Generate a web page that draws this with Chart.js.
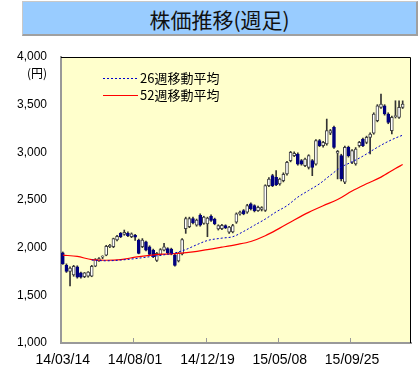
<!DOCTYPE html>
<html>
<head>
<meta charset="utf-8">
<script src="https://cdn.jsdelivr.net/npm/chart.js@4.4.1/dist/chart.umd.min.js"></script>
<style>
  html, body { margin: 0; padding: 0; background: #fff; }
  #wrap { position: relative; width: 420px; height: 375px; }
  #title {
    position: absolute; left: 22px; top: 1px; width: 393px; height: 32px;
    background: #99CCFF;
    border: 1px solid #c8c8c8; border-right: 2px solid #a0a0a0; border-bottom: 2px solid #a0a0a0;
    font-family: "Noto Sans CJK JP", sans-serif; font-size: 21px; line-height: 34px;
    text-align: center; color: #111;
  }
  canvas { position: absolute; left: 0; top: 0; }
</style>
</head>
<body>
<div id="wrap">
  <canvas id="chart" width="420" height="375"></canvas>
  <div id="title">株価推移(週足)</div>
</div>
<script>
// weekly candles, 14/03/14 .. (index = week number)
const opens = [
  1945, 1815, 1750, 1715, 1800, 1735, 1695, 1700, 1700, 1805,
  1862, 1900, 1920, 2010, 2010, 2080, 2150, 2140, 2150, 2115,
  2130, 2080, 2010, 2060, 2010, 1975, 1865, 1930, 1975, 1990,
  1985, 1920, 1860, 1935, 2200, 2220, 2305, 2235, 2340, 2255,
  2250, 2330, 2300, 2197, 2200, 2232, 2163, 2165, 2267, 2354,
  2389, 2372, 2459, 2441, 2389, 2400, 2390, 2651, 2755, 2738,
  2668, 2703, 2773, 2913, 2965, 2982, 2913, 2860, 2843, 2913,
  2877, 3122, 3070, 3087, 3200, 3262, 2990, 2965, 2686, 3052,
  2895, 2878, 3070, 3140, 3104, 3157, 3200, 3332, 3471, 3489,
  3402, 3227, 3375, 3366, 3471
]
const highs = [
  1955, 1830, 1800, 1815, 1810, 1745, 1740, 1750, 1815, 1885,
  1895, 1915, 2025, 2035, 2100, 2130, 2160, 2185, 2165, 2155,
  2140, 2090, 2095, 2070, 2020, 1985, 1950, 1990, 2045, 2000,
  1995, 1930, 1950, 2095, 2320, 2320, 2320, 2300, 2355, 2330,
  2320, 2345, 2310, 2240, 2245, 2240, 2225, 2245, 2365, 2385,
  2400, 2455, 2470, 2450, 2435, 2430, 2660, 2735, 2770, 2808,
  2730, 2785, 2905, 3010, 3005, 2995, 2925, 2940, 2975, 2925,
  3135, 3135, 3115, 3349, 3240, 3275, 3020, 2980, 3065, 3065,
  3030, 3050, 3115, 3150, 3170, 3205, 3415, 3500, 3611, 3500,
  3415, 3380, 3541, 3541, 3540
]
const lows = [
  1825, 1740, 1600, 1700, 1680, 1680, 1685, 1690, 1695, 1800,
  1855, 1885, 1915, 2000, 2000, 2070, 2105, 2130, 2115, 2105,
  2075, 1935, 2000, 1965, 1925, 1895, 1855, 1920, 1965, 1935,
  1925, 1805, 1850, 1925, 2150, 2210, 2250, 2225, 2225, 2245,
  2115, 2275, 2240, 2185, 2190, 2200, 2150, 2155, 2255, 2340,
  2345, 2360, 2395, 2375, 2380, 2385, 2380, 2640, 2640, 2650,
  2655, 2690, 2760, 2900, 2955, 2865, 2865, 2850, 2825, 2755,
  2865, 3060, 3055, 3075, 3185, 3040, 2721, 2700, 2670, 2950,
  2880, 2865, 3055, 3060, 3090, 2983, 3190, 3320, 3460, 3390,
  3300, 3192, 3360, 3355, 3460
]
const closes = [
  1830, 1750, 1785, 1805, 1690, 1690, 1735, 1745, 1805, 1875,
  1885, 1905, 2015, 2025, 2095, 2120, 2115, 2160, 2125, 2145,
  2110, 1940, 2080, 1975, 1930, 1905, 1940, 1980, 2010, 1945,
  1935, 1815, 1940, 2085, 2305, 2305, 2260, 2290, 2235, 2320,
  2310, 2285, 2250, 2232, 2235, 2208, 2215, 2232, 2354, 2372,
  2354, 2441, 2407, 2389, 2424, 2420, 2651, 2720, 2651, 2660,
  2720, 2770, 2895, 3000, 2990, 2877, 2877, 2930, 2965, 2843,
  3122, 3070, 3104, 3227, 3227, 3052, 3010, 2721, 3052, 2965,
  3018, 3035, 3104, 3070, 3157, 3192, 3402, 3489, 3506, 3402,
  3314, 3366, 3382, 3471, 3506
]

// moving averages (week index, price)
const ma26Weeks = [8, 12, 16, 20, 24, 28, 31, 34, 37, 40, 44, 47, 50, 53, 56, 59, 62, 65, 68, 71, 74, 77, 80, 83, 86, 89, 92, 94]
const ma26 = [1870, 1862, 1870, 1885, 1905, 1925, 1945, 1980, 2030, 2075, 2100, 2115, 2170, 2235, 2300, 2375, 2440, 2530, 2600, 2670, 2760, 2845, 2900, 2960, 3030, 3095, 3150, 3180]
const ma52Weeks = [0, 4, 8, 12, 16, 20, 24, 28, 32, 36, 40, 44, 48, 52, 56, 60, 64, 68, 72, 76, 80, 84, 88, 92, 94]
const ma52 = [1922, 1908, 1875, 1868, 1875, 1900, 1920, 1932, 1940, 1955, 1980, 2005, 2032, 2065, 2125, 2205, 2290, 2370, 2440, 2505, 2595, 2670, 2740, 2830, 2872]

const tickWeeks = [0, 20, 40, 60, 80]
const tickLabels = ['14/03/14', '14/08/01', '14/12/19', '15/05/08', '15/09/25']

const weeks = opens.map((_, i) => i)
const isUp = i => closes[i] >= opens[i]

const chartFrame = {
  id: 'chartFrame',
  beforeDraw(chart) {
    const { ctx, chartArea: a } = chart
    ctx.save()
    ctx.fillStyle = '#FFFFCC'
    ctx.fillRect(a.left, a.top, a.right - a.left, a.bottom - a.top)
    ctx.restore()
  },
  afterDraw(chart) {
    const { ctx, chartArea: a } = chart
    const xs = chart.scales.x
    ctx.save()
    // top and right border
    ctx.strokeStyle = '#000'
    ctx.lineWidth = 1
    ctx.beginPath()
    ctx.moveTo(a.left, a.top + 0.5)
    ctx.lineTo(a.right - 0.5, a.top + 0.5)
    ctx.lineTo(a.right - 0.5, a.bottom)
    ctx.stroke()
    // small tick marks inside, between categories
    ctx.strokeStyle = '#999'
    tickWeeks.slice(1).forEach(w => {
      const px = Math.round(xs.getPixelForValue(w - 0.5)) + 0.5
      ctx.beginPath()
      ctx.moveTo(px, a.bottom - 1)
      ctx.lineTo(px, a.bottom - 5)
      ctx.stroke()
    })
    // unit label
    ctx.fillStyle = '#000'
    ctx.font = '12px "Noto Sans CJK JP", sans-serif'
    ctx.textAlign = 'right'
    ctx.textBaseline = 'middle'
    ctx.fillText('(円)', 47, 73)
    // legend
    ctx.font = '13px "Noto Sans CJK JP", sans-serif'
    ctx.textAlign = 'left'
    const rows = [chart.data.datasets[0], chart.data.datasets[1]]
    rows.forEach((ds, k) => {
      const y = Math.round(a.top + 21 + k * 17) + 0.5
      ctx.strokeStyle = ds.borderColor
      ctx.lineWidth = ds.borderWidth
      ctx.setLineDash(ds.borderDash || [])
      ctx.beginPath()
      ctx.moveTo(a.left + 42, y)
      ctx.lineTo(a.left + 77, y)
      ctx.stroke()
      ctx.setLineDash([])
      ctx.fillText(ds.label, a.left + 79, y)
    })
    ctx.restore()
  }
}

new Chart(document.getElementById('chart'), {
  data: {
    datasets: [
      {
        type: 'line',
        label: '26週移動平均',
        data: ma26Weeks.map((w, k) => ({ x: w, y: ma26[k] })),
        borderColor: '#0000CC',
        borderWidth: 1,
        borderDash: [2, 2],
        pointRadius: 0,
        cubicInterpolationMode: 'monotone',
        order: 0
      },
      {
        type: 'line',
        label: '52週移動平均',
        data: ma52Weeks.map((w, k) => ({ x: w, y: ma52[k] })),
        borderColor: '#FF0000',
        borderWidth: 1.2,
        pointRadius: 0,
        cubicInterpolationMode: 'monotone',
        order: 1
      },
      {
        type: 'bar',
        label: 'body',
        data: weeks.map(i => ({ x: i, y: [opens[i], closes[i]] })),
        backgroundColor: weeks.map(i => isUp(i) ? '#FFFFFF' : '#000080'),
        borderColor: weeks.map(i => isUp(i) ? '#444444' : '#000080'),
        borderWidth: 1,
        borderSkipped: false,
        barThickness: 3,
        minBarLength: 1,
        grouped: false,
        order: 2
      },
      {
        type: 'bar',
        label: 'wick',
        data: weeks.map(i => ({ x: i, y: [lows[i], highs[i]] })),
        backgroundColor: '#333333',
        barThickness: 1,
        grouped: false,
        order: 3
      }
    ]
  },
  options: {
    responsive: false,
    animation: false,
    layout: { padding: { top: 57, right: 9, bottom: 0, left: 0 } },
    plugins: {
      legend: { display: false },
      tooltip: { enabled: false },
      title: { display: false }
    },
    scales: {
      x: {
        type: 'linear',
        offset: false,
        min: -0.5,
        max: 96.3,
        grid: { display: true, drawOnChartArea: false, drawTicks: false, offset: false },
        border: { display: true, color: '#999999', width: 2 },
        afterBuildTicks: s => { s.ticks = tickWeeks.map(v => ({ value: v })) },
        afterFit: s => { s.height = 32 },
        ticks: {
          autoSkip: false,
          maxRotation: 0,
          padding: 9,
          color: '#000',
          font: { family: '"Liberation Sans", Arial, sans-serif', size: 14 },
          callback: v => tickLabels[tickWeeks.indexOf(v)] || ''
        }
      },
      y: {
        min: 1000,
        max: 4000,
        grid: { display: true, drawOnChartArea: false, drawTicks: false },
        border: { display: true, color: '#999999', width: 2 },
        afterFit: s => { s.width = 61 },
        ticks: {
          stepSize: 500,
          padding: 14,
          color: '#000',
          font: { family: '"Liberation Sans", Arial, sans-serif', size: 12 },
          callback: v => v.toLocaleString('en-US')
        }
      }
    }
  },
  plugins: [chartFrame]
})
</script>
</body>
</html>
